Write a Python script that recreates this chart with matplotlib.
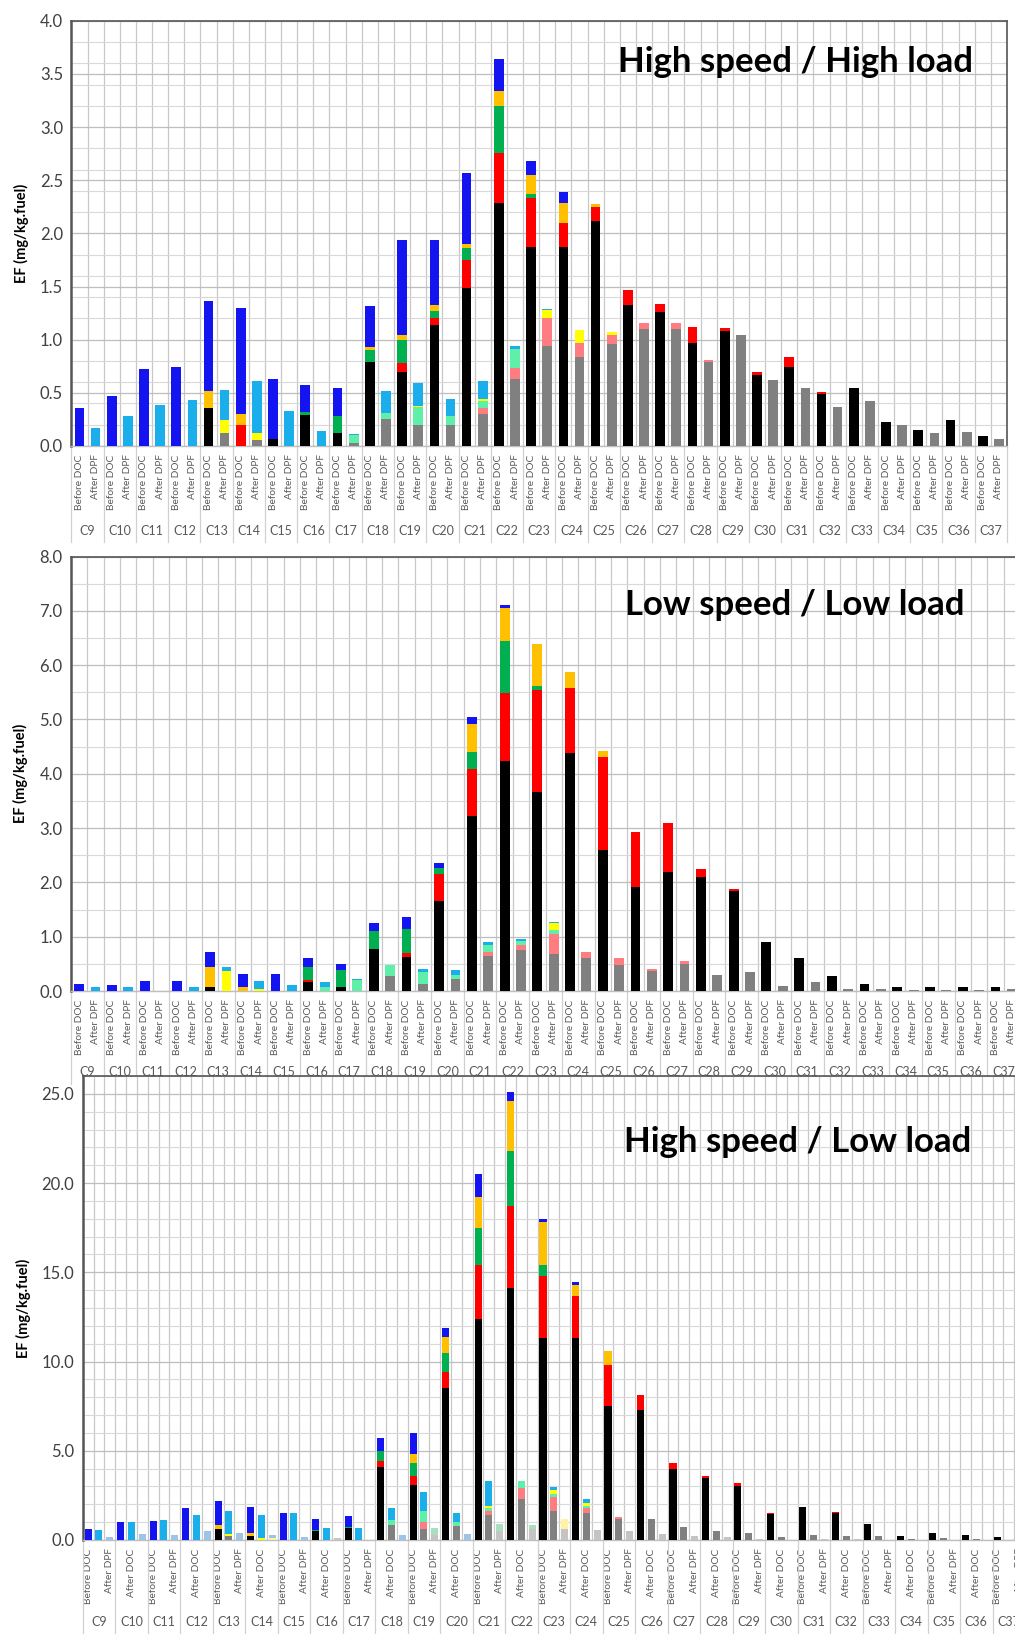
import matplotlib
matplotlib.use("Agg")
import matplotlib.pyplot as plt
import numpy as np
from matplotlib.ticker import MultipleLocator, FormatStrFormatter

plt.rcParams['font.family'] = ['Lato', 'DejaVu Sans']

groups = ["C%d" % i for i in range(9, 38)]

# ---------------- High speed / High load ----------------
hh_before_black  = [0, 0, 0, 0, 0.36, 0, 0.07, 0.29, 0.12, 0.79, 0.70, 1.14, 1.49, 2.29, 1.87, 1.87, 2.12, 1.33, 1.26, 0.97, 1.08, 0.67, 0.74, 0.49, 0.55, 0.23, 0.15, 0.24, 0.09]
hh_before_red    = [0, 0, 0, 0, 0, 0.20, 0, 0, 0, 0, 0.08, 0.06, 0.26, 0.47, 0.46, 0.23, 0.13, 0.14, 0.08, 0.15, 0.03, 0.03, 0.10, 0.02, 0, 0, 0, 0, 0]
hh_before_green  = [0, 0, 0, 0, 0, 0, 0, 0.03, 0.16, 0.11, 0.22, 0.07, 0.11, 0.44, 0.04, 0, 0, 0, 0, 0, 0, 0, 0, 0, 0, 0, 0, 0, 0]
hh_before_orange = [0, 0, 0, 0, 0.16, 0.10, 0, 0, 0, 0.03, 0.04, 0.06, 0.04, 0.14, 0.18, 0.19, 0.03, 0, 0, 0, 0, 0, 0, 0, 0, 0, 0, 0, 0]
hh_before_blue   = [0.36, 0.47, 0.72, 0.74, 0.84, 1.00, 0.56, 0.25, 0.27, 0.39, 0.90, 0.61, 0.67, 0.30, 0.13, 0.10, 0, 0, 0, 0, 0, 0, 0, 0, 0, 0, 0, 0, 0]
hh_after_gray    = [0, 0, 0, 0, 0.12, 0.06, 0, 0, 0.03, 0.25, 0.20, 0.20, 0.30, 0.63, 0.94, 0.84, 0.96, 1.10, 1.10, 0.79, 1.04, 0.62, 0.55, 0.37, 0.42, 0.20, 0.12, 0.13, 0.07]
hh_after_pink    = [0, 0, 0, 0, 0, 0, 0, 0, 0, 0, 0, 0, 0.06, 0.10, 0.26, 0.13, 0.08, 0.06, 0.06, 0.02, 0, 0, 0, 0, 0, 0, 0, 0, 0]
hh_after_aqua    = [0, 0, 0, 0, 0, 0, 0, 0, 0.07, 0.06, 0.17, 0.08, 0.06, 0.18, 0, 0, 0, 0, 0, 0, 0, 0, 0, 0, 0, 0, 0, 0, 0]
hh_after_yellow  = [0, 0, 0, 0, 0.12, 0.06, 0, 0, 0, 0, 0.01, 0, 0.02, 0, 0.08, 0.12, 0.03, 0, 0, 0, 0, 0, 0, 0, 0, 0, 0, 0, 0]
hh_after_lblue   = [0.17, 0.28, 0.39, 0.43, 0.29, 0.49, 0.33, 0.14, 0.01, 0.21, 0.21, 0.16, 0.17, 0.03, 0.01, 0, 0, 0, 0, 0, 0, 0, 0, 0, 0, 0, 0, 0, 0]

# ---------------- Low speed / Low load ----------------
ll_before_black  = [0, 0, 0, 0, 0.08, 0, 0, 0.17, 0.07, 0.78, 0.63, 1.66, 3.22, 4.23, 3.67, 4.38, 2.60, 1.92, 2.20, 2.10, 1.84, 0.90, 0.60, 0.27, 0.12, 0.07, 0.08, 0.08, 0.07]
ll_before_red    = [0, 0, 0, 0, 0, 0, 0, 0.03, 0, 0, 0.07, 0.49, 0.86, 1.25, 1.88, 1.19, 1.70, 1.01, 0.90, 0.14, 0.03, 0, 0, 0.01, 0, 0, 0, 0, 0]
ll_before_green  = [0, 0, 0, 0, 0, 0, 0, 0.25, 0.31, 0.32, 0.44, 0.11, 0.32, 0.97, 0.07, 0, 0, 0, 0, 0, 0, 0, 0, 0, 0, 0, 0, 0, 0]
ll_before_orange = [0, 0, 0, 0, 0.37, 0.08, 0, 0, 0, 0, 0, 0, 0.52, 0.61, 0.76, 0.31, 0.12, 0, 0, 0, 0, 0, 0, 0, 0, 0, 0, 0, 0]
ll_before_blue   = [0.13, 0.11, 0.19, 0.19, 0.26, 0.23, 0.31, 0.15, 0.11, 0.16, 0.22, 0.09, 0.12, 0.04, 0, 0, 0, 0, 0, 0, 0, 0, 0, 0, 0, 0, 0, 0, 0]
ll_after_gray    = [0, 0, 0, 0, 0, 0, 0, 0, 0, 0.27, 0.12, 0.22, 0.65, 0.75, 0.68, 0.60, 0.48, 0.37, 0.49, 0.30, 0.35, 0.10, 0.16, 0.03, 0.03, 0.01, 0.01, 0.02, 0.03]
ll_after_pink    = [0, 0, 0, 0, 0, 0, 0, 0, 0, 0, 0, 0, 0.07, 0.10, 0.37, 0.12, 0.12, 0.04, 0.06, 0, 0, 0, 0, 0, 0, 0, 0, 0, 0]
ll_after_aqua    = [0, 0, 0, 0, 0, 0, 0, 0.08, 0.20, 0.20, 0.23, 0.08, 0.13, 0.07, 0.08, 0, 0, 0, 0, 0, 0, 0, 0, 0, 0, 0, 0, 0, 0]
ll_after_yellow  = [0, 0, 0, 0, 0.36, 0.03, 0, 0, 0, 0, 0, 0, 0, 0, 0.12, 0, 0, 0, 0, 0, 0, 0, 0, 0, 0, 0, 0, 0, 0]
ll_after_lblue   = [0.08, 0.07, 0, 0.08, 0.09, 0.15, 0.11, 0.08, 0.02, 0, 0.05, 0.08, 0.05, 0.03, 0.02, 0, 0, 0, 0, 0, 0, 0, 0, 0, 0, 0, 0, 0, 0]

# ---------------- High speed / Low load ----------------
hl_before_black  = [0, 0, 0, 0, 0.6, 0.25, 0, 0.5, 0.65, 4.1, 3.1, 8.5, 12.4, 14.1, 11.3, 11.3, 7.5, 7.3, 4.0, 3.5, 3.0, 1.45, 1.85, 1.5, 0.92, 0.25, 0.4, 0.3, 0.15]
hl_before_red    = [0, 0, 0, 0, 0, 0, 0, 0, 0, 0.3, 0.5, 0.9, 3.0, 4.6, 3.5, 2.4, 2.3, 0.8, 0.3, 0.1, 0.2, 0.05, 0, 0.05, 0, 0, 0, 0, 0]
hl_before_green  = [0, 0, 0, 0, 0, 0, 0, 0.05, 0.1, 0.6, 0.7, 1.1, 2.1, 3.1, 0.6, 0, 0, 0, 0, 0, 0, 0, 0, 0, 0, 0, 0, 0, 0]
hl_before_orange = [0, 0, 0, 0, 0.25, 0.15, 0, 0, 0, 0, 0.5, 0.9, 1.7, 2.8, 2.4, 0.6, 0.8, 0, 0, 0, 0, 0, 0, 0, 0, 0, 0, 0, 0]
hl_before_blue   = [0.6, 1.0, 1.05, 1.8, 1.35, 1.45, 1.5, 0.6, 0.6, 0.7, 1.2, 0.5, 1.3, 0.5, 0.2, 0.15, 0, 0, 0, 0, 0, 0, 0, 0, 0, 0, 0, 0, 0]
hl_afterdoc_gray   = [0, 0, 0, 0, 0.2, 0, 0, 0, 0, 0.85, 0.6, 0.8, 1.4, 2.3, 1.6, 1.5, 1.2, 1.2, 0.75, 0.5, 0.4, 0.15, 0.3, 0.2, 0.2, 0.05, 0.1, 0.05, 0.02]
hl_afterdoc_pink   = [0, 0, 0, 0, 0, 0, 0, 0, 0, 0, 0.4, 0, 0.2, 0.6, 0.8, 0.3, 0.1, 0, 0, 0, 0, 0, 0, 0, 0, 0, 0, 0, 0]
hl_afterdoc_aqua   = [0, 0, 0, 0, 0, 0, 0, 0, 0, 0.25, 0.6, 0.2, 0.2, 0.4, 0.2, 0.1, 0, 0, 0, 0, 0, 0, 0, 0, 0, 0, 0, 0, 0]
hl_afterdoc_yellow = [0, 0, 0, 0, 0.15, 0.1, 0, 0, 0, 0, 0, 0, 0.1, 0, 0.2, 0.2, 0, 0, 0, 0, 0, 0, 0, 0, 0, 0, 0, 0, 0]
hl_afterdoc_lblue  = [0.55, 1.0, 1.1, 1.4, 1.25, 1.3, 1.5, 0.65, 0.65, 0.7, 1.1, 0.5, 1.4, 0, 0.15, 0.2, 0, 0, 0, 0, 0, 0, 0, 0, 0, 0, 0, 0, 0]
hl_afterdpf_gray   = [0, 0, 0, 0, 0, 0, 0, 0.1, 0, 0, 0.3, 0, 0.5, 0.6, 0.6, 0.55, 0.5, 0.35, 0.25, 0.15, 0.05, 0.02, 0.05, 0.05, 0.02, 0.01, 0.02, 0.01, 0]
hl_afterdpf_pink   = [0] * 29
hl_afterdpf_green  = [0, 0, 0, 0, 0, 0, 0, 0, 0, 0, 0.4, 0, 0.4, 0.25, 0, 0, 0, 0, 0, 0, 0, 0, 0, 0, 0, 0, 0, 0, 0]
hl_afterdpf_yellow = [0, 0, 0, 0, 0, 0.1, 0, 0, 0, 0, 0, 0, 0, 0, 0.6, 0, 0, 0, 0, 0, 0, 0, 0, 0, 0, 0, 0, 0, 0]
hl_afterdpf_blue   = [0.15, 0.35, 0.3, 0.5, 0.4, 0.2, 0.15, 0, 0, 0.3, 0, 0.35, 0, 0, 0, 0, 0, 0, 0, 0, 0, 0, 0, 0, 0, 0, 0, 0, 0]

bar_types_2 = ["Before DOC", "After DPF"]
bar_types_3 = ["Before DOC", "After DOC", "After DPF"]

C_BEFORE = ['#000000', '#FF0000', '#00B050', '#FFC000', '#1414F0']
C_AFTER = ['#808080', '#FF7C80', '#5EF0A8', '#FFFF00', '#1AAEEA']
C_PALE = ['#C4C4C4', '#F6C4C4', '#A9DFBF', '#FFF2A0', '#9DC3E6']

TXT = '#595959'


def stack(ax, x, series, colors, width):
    bottom = np.zeros(len(x))
    for vals, col in zip(series, colors):
        v = np.array(vals, dtype=float)
        ax.bar(x, v, width=width, bottom=bottom, color=col, edgecolor='none', zorder=3)
        bottom = bottom + v


def panel(fig, rect, ymax, major, minor, title, title_xy, sets, colorsets, types, label_every,
          grp_off, sep_len, bw, lab_fs):
    ax = fig.add_axes(rect)
    n = len(types)
    ng = len(groups)
    for k, (series, cols) in enumerate(zip(sets, colorsets)):
        x = np.arange(ng) * n + k
        stack(ax, x, series, cols, bw)
    nbar = ng * n
    ax.set_xlim(-0.5, nbar - 0.5)
    ax.set_ylim(0, ymax)
    ax.yaxis.set_major_locator(MultipleLocator(major))
    ax.yaxis.set_minor_locator(MultipleLocator(minor))
    ax.yaxis.set_major_formatter(FormatStrFormatter('%.1f'))
    ax.set_xticks(np.arange(nbar) - 0.5 + 1, minor=True)
    labels = []
    pos = []
    for i in range(nbar):
        if i % label_every == 0:
            pos.append(i)
            labels.append(types[i % n])
    ax.set_xticks(pos)
    ax.set_xticklabels(labels, rotation=90, fontsize=lab_fs, color=TXT)
    ax.tick_params(axis='x', which='both', length=0, pad=6)
    ax.tick_params(axis='y', which='both', length=0, labelsize=12, labelcolor='#404040', pad=6)
    ax.grid(which='major', axis='y', color='#BDBDBD', lw=0.9, zorder=0)
    ax.grid(which='minor', axis='y', color='#D9D9D9', lw=0.8, zorder=0)
    ax.grid(which='minor', axis='x', color='#C8C8C8', lw=0.9, zorder=0)
    for s in ax.spines.values():
        s.set_color('#555555')
        s.set_linewidth(1.2)
    ax.spines['left'].set_linewidth(1.8)
    ax.spines['bottom'].set_color('#BFBFBF')
    ax.spines['bottom'].set_linewidth(1.0)
    # group labels and separators
    hpx = rect[3] * fig.get_figheight() * fig.dpi
    trans = ax.get_xaxis_transform()
    for g, name in enumerate(groups):
        xc = g * n + (n - 1) / 2
        ax.annotate(name, xy=(xc, 0), xycoords=trans, xytext=(0, -grp_off),
                    textcoords='offset pixels', ha='center', va='center', fontsize=9, color=TXT)
    for g in range(ng + 1):
        xb = g * n - 0.5
        ax.plot([xb, xb], [0, -sep_len / hpx], transform=trans, color='#D0D0D0', lw=0.9, clip_on=False)
    ax.text(title_xy[0], title_xy[1], title, transform=fig.transFigure, ha='center', va='center',
            fontsize=25, fontweight='bold', color='#000000', zorder=10)
    ax.set_ylabel('EF (mg/kg.fuel)', fontsize=10.5, fontweight='bold', color='#000000', labelpad=8)
    return ax


W, H = 1015, 1634
fig = plt.figure(figsize=(W / 100, H / 100), dpi=100)
fig.patch.set_facecolor('white')


def fr(left, right, top, bottom):
    return [left / W, 1 - bottom / H, (right - left) / W, (bottom - top) / H]


panel(fig, fr(71.4, 1007, 20.8, 446), 4.0, 0.5, 0.2, 'High speed / High load', (795 / W, 1 - 62 / H),
      [[hh_before_black, hh_before_red, hh_before_green, hh_before_orange, hh_before_blue],
       [hh_after_gray, hh_after_pink, hh_after_aqua, hh_after_yellow, hh_after_lblue]],
      [C_BEFORE, C_AFTER], bar_types_2, 1, 85, 96, 0.6, 7.3)

panel(fig, fr(71, 1020, 556.5, 991), 8.0, 1.0, 0.5, 'Low speed / Low load', (795 / W, 1 - 605 / H),
      [[ll_before_black, ll_before_red, ll_before_green, ll_before_orange, ll_before_blue],
       [ll_after_gray, ll_after_pink, ll_after_aqua, ll_after_yellow, ll_after_lblue]],
      [C_BEFORE, C_AFTER], bar_types_2, 1, 81, 93, 0.6, 7.3)

panel(fig, fr(82.7, 1025, 1076, 1540), 26.0, 5.0, 1.0, 'High speed / Low load', (798 / W, 1 - 1142 / H),
      [[hl_before_black, hl_before_red, hl_before_green, hl_before_orange, hl_before_blue],
       [hl_afterdoc_gray, hl_afterdoc_pink, hl_afterdoc_aqua, hl_afterdoc_yellow, hl_afterdoc_lblue],
       [hl_afterdpf_gray, hl_afterdpf_pink, hl_afterdpf_green, hl_afterdpf_yellow, hl_afterdpf_blue]],
      [C_BEFORE, C_AFTER, C_PALE], bar_types_3, 2, 82, 94, 0.65, 7.3)

fig.savefig('out.png', dpi=100, facecolor='white')
